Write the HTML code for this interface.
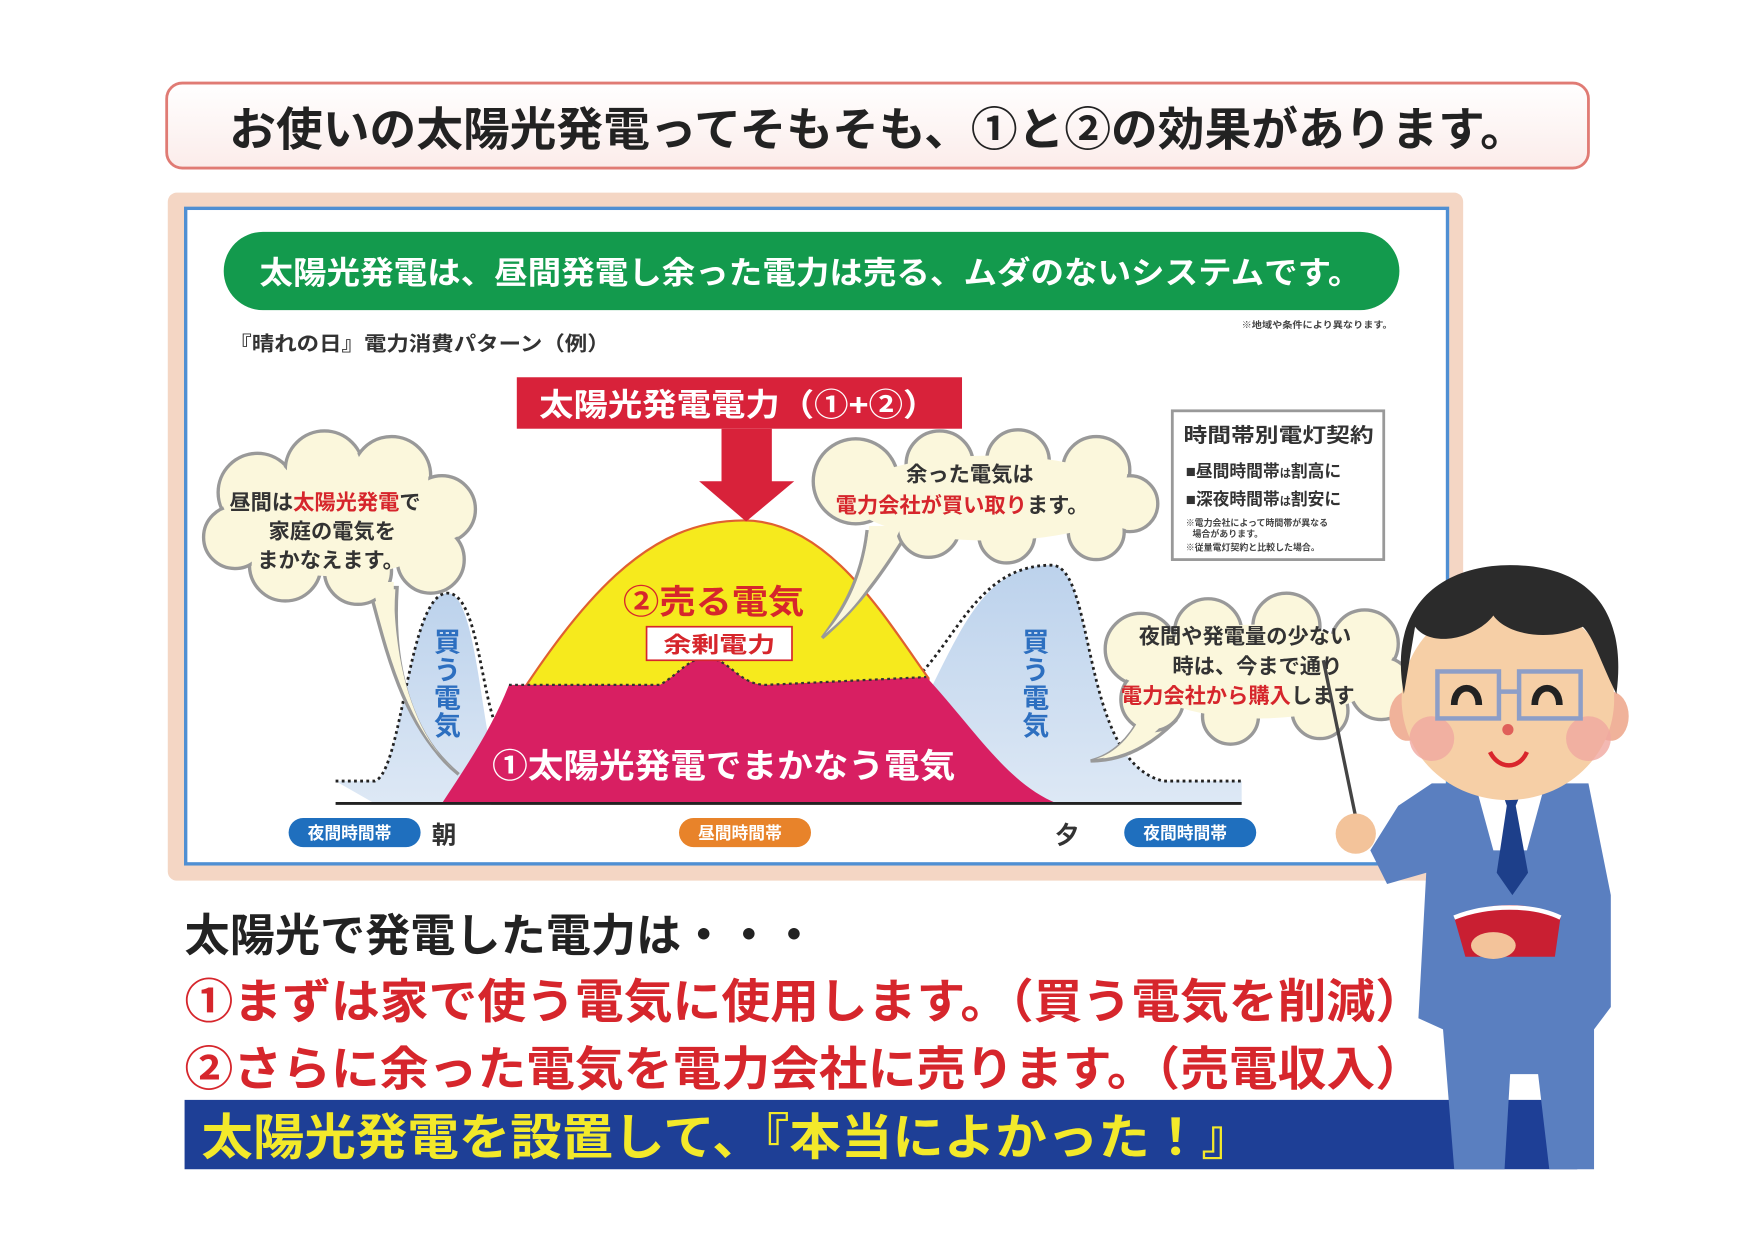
<!DOCTYPE html>
<html><head><meta charset="utf-8"><style>
html,body{margin:0;padding:0;background:#fff;}
svg{display:block;}
text{font-family:"Liberation Sans","Noto Sans CJK JP",sans-serif;font-weight:bold;}
</style></head><body>
<svg width="1754" height="1240" viewBox="0 0 1568 1108" xmlns="http://www.w3.org/2000/svg">
<defs>
<linearGradient id="tb" x1="0" y1="0" x2="0" y2="1"><stop offset="0" stop-color="#fff"/><stop offset="1" stop-color="#fbecea"/></linearGradient>
<linearGradient id="bl" x1="0" y1="0" x2="0" y2="1"><stop offset="0" stop-color="#bcd2ec"/><stop offset="1" stop-color="#dde8f5"/></linearGradient>
</defs>
<rect width="1568" height="1108" fill="#fff"/>
<rect x="149" y="74" width="1271" height="76" rx="14" fill="url(#tb)" stroke="#e07b74" stroke-width="2.5"/>
<text x="205" y="130" font-size="41" fill="#222" textLength="1160" lengthAdjust="spacingAndGlyphs">お使いの太陽光発電ってそもそも、①と②の効果があります。</text>
<rect x="150" y="172" width="1158" height="615" rx="8" fill="#f4d6c4"/>
<rect x="166" y="186" width="1128" height="586" fill="#fff" stroke="#4f8fd3" stroke-width="3"/>
<rect x="200" y="207" width="1051" height="70" rx="35" fill="#139a4d"/>
<text x="232" y="253" font-size="28" fill="#fff" textLength="985" lengthAdjust="spacingAndGlyphs">太陽光発電は、昼間発電し余った電力は売る、ムダのないシステムです。</text>
<text x="1110" y="293" font-size="8" fill="#444" font-weight="normal" textLength="135" lengthAdjust="spacingAndGlyphs">※地域や条件により異なります。</text>
<text x="205" y="313" font-size="18" fill="#333" textLength="340" lengthAdjust="spacingAndGlyphs">『晴れの日』電力消費パターン（例）</text>
<path d="M300,698 L335,698 C360,690 365,530 400,530 C430,530 430,690 455,718 L335,718 Z" fill="url(#bl)"/>
<path d="M300,698 L335,698 C360,690 365,530 400,530 C430,530 430,640 450,660" fill="none" stroke="#222" stroke-width="2.5" stroke-dasharray="2.5,3"/>
<path d="M820,640 C860,560 880,505 940,505 C980,505 965,680 1040,698 L1110,698 L1110,718 L900,718 Z" fill="url(#bl)"/>
<path d="M825,600 C860,560 880,505 940,505 C980,505 965,680 1040,698 L1110,698" fill="none" stroke="#222" stroke-width="2.5" stroke-dasharray="2.5,3"/>
<path d="M440,660 C520,530 580,465 665,465 C740,465 790,550 830,606 L830,718 L440,718 Z" fill="#f6ea1d" stroke="#e06030" stroke-width="2"/>
<path d="M395,718 C420,680 440,650 455,612 L590,612 C610,600 615,588 632,588 C652,588 660,612 685,612 L828,605 C870,650 900,700 945,718 Z" fill="#d81f62"/>
<path d="M455,612 L590,612 C610,600 615,588 632,588 C652,588 660,612 685,612 L828,605" fill="none" stroke="#333" stroke-width="2" stroke-dasharray="2.5,3"/>
<line x1="300" y1="718" x2="1110" y2="718" stroke="#222" stroke-width="2.5"/>
<text font-size="24" fill="#2d6fc0"><tspan x="388" y="582">買</tspan><tspan x="388" y="607">う</tspan><tspan x="388" y="632">電</tspan><tspan x="388" y="657">気</tspan></text>
<text font-size="24" fill="#2d6fc0"><tspan x="914" y="582">買</tspan><tspan x="914" y="607">う</tspan><tspan x="914" y="632">電</tspan><tspan x="914" y="657">気</tspan></text>
<text x="557" y="548" font-size="30" fill="#d6262c" textLength="162" lengthAdjust="spacingAndGlyphs">②売る電気</text>
<rect x="578" y="560" width="130" height="30" fill="#fff" stroke="#d6262c" stroke-width="1.5"/>
<text x="593" y="583" font-size="20" fill="#d6262c" textLength="100" lengthAdjust="spacingAndGlyphs">余剰電力</text>
<text x="440" y="695" font-size="30" fill="#fff" textLength="414" lengthAdjust="spacingAndGlyphs">①太陽光発電でまかなう電気</text>
<rect x="462" y="337" width="398" height="46" fill="#d8223a"/>
<text x="482" y="371" font-size="28" fill="#fff" textLength="356" lengthAdjust="spacingAndGlyphs">太陽光発電電力（①+②）</text>
<polygon points="645,383 690,383 690,430 710,430 667,466 625,430 645,430" fill="#d8223a"/>
<g fill="#fbf7dc" stroke="#999" stroke-width="3">
<path d="M330,525 C345,580 360,650 410,692 C370,660 350,600 355,525 Z"/>
<circle cx="230" cy="440" r="35"/><circle cx="290" cy="420" r="35"/><circle cx="350" cy="425" r="35"/><circle cx="395" cy="455" r="30"/><circle cx="385" cy="500" r="30"/><circle cx="320" cy="510" r="30"/><circle cx="255" cy="505" r="32"/><circle cx="210" cy="480" r="28"/>
<path d="M775,475 C770,520 750,550 735,570 C770,540 790,510 810,478 Z"/>
<circle cx="765" cy="430" r="38"/><circle cx="840" cy="415" r="30"/><circle cx="910" cy="412" r="28"/><circle cx="980" cy="420" r="30"/><circle cx="1010" cy="450" r="25"/><circle cx="980" cy="475" r="25"/><circle cx="900" cy="478" r="25"/><circle cx="830" cy="470" r="28"/>
<path d="M1020,640 C1010,660 995,675 975,680 C1005,680 1030,665 1050,645 Z"/>
<circle cx="1020" cy="580" r="32"/><circle cx="1080" cy="565" r="30"/><circle cx="1150" cy="560" r="30"/><circle cx="1220" cy="575" r="30"/><circle cx="1235" cy="615" r="28"/><circle cx="1180" cy="635" r="25"/><circle cx="1100" cy="640" r="25"/><circle cx="1030" cy="625" r="28"/>
</g>
<g fill="#fbf7dc">
<path d="M332,520 C347,580 362,648 406,688 C372,658 352,600 352,520 Z"/>
<circle cx="230" cy="440" r="33"/><circle cx="290" cy="420" r="33"/><circle cx="350" cy="425" r="33"/><circle cx="395" cy="455" r="28"/><circle cx="385" cy="500" r="28"/><circle cx="320" cy="510" r="28"/><circle cx="255" cy="505" r="30"/><circle cx="210" cy="480" r="26"/><ellipse cx="300" cy="465" rx="100" ry="50"/>
<path d="M777,470 C772,520 752,550 738,566 C770,540 788,510 806,470 Z"/>
<circle cx="765" cy="430" r="36"/><circle cx="840" cy="415" r="28"/><circle cx="910" cy="412" r="26"/><circle cx="980" cy="420" r="28"/><circle cx="1010" cy="450" r="23"/><circle cx="980" cy="475" r="23"/><circle cx="900" cy="478" r="23"/><circle cx="830" cy="470" r="26"/><ellipse cx="885" cy="445" rx="125" ry="38"/>
<path d="M1022,635 C1012,658 997,673 980,678 C1005,676 1028,662 1046,640 Z"/>
<circle cx="1020" cy="580" r="30"/><circle cx="1080" cy="565" r="28"/><circle cx="1150" cy="560" r="28"/><circle cx="1220" cy="575" r="28"/><circle cx="1235" cy="615" r="26"/><circle cx="1180" cy="635" r="23"/><circle cx="1100" cy="640" r="23"/><circle cx="1030" cy="625" r="26"/><ellipse cx="1125" cy="600" rx="110" ry="42"/>
</g>
<text font-size="19" fill="#333"><tspan x="205" y="455">昼間は<tspan fill="#d6262c">太陽光発電</tspan>で</tspan><tspan x="240" y="481">家庭の電気を</tspan><tspan x="230" y="507">まかなえます。</tspan></text>
<text font-size="19" fill="#333"><tspan x="810" y="430">余った電気は</tspan><tspan x="747" y="458"><tspan fill="#d6262c">電力会社が買い取り</tspan>ます。</tspan></text>
<text font-size="19" fill="#333"><tspan x="1018" y="575">夜間や発電量の少ない</tspan><tspan x="1048" y="602">時は、今まで通り</tspan><tspan x="1002" y="628"><tspan fill="#d6262c">電力会社から購入</tspan>します</tspan></text>
<rect x="1048" y="367" width="189" height="133" fill="#fff" stroke="#999" stroke-width="2.5"/>
<text x="1058" y="395" font-size="18" fill="#333" textLength="170" lengthAdjust="spacingAndGlyphs">時間帯別電灯契約</text>
<text x="1060" y="426" font-size="15" fill="#333" font-weight="normal">■昼間時間帯<tspan font-size="10">は</tspan>割高に</text>
<text x="1060" y="451" font-size="15" fill="#333" font-weight="normal">■深夜時間帯<tspan font-size="10">は</tspan>割安に</text>
<text font-size="8" fill="#444" font-weight="normal"><tspan x="1060" y="470">※電力会社によって時間帯が異なる</tspan><tspan x="1066" y="480">場合があります。</tspan><tspan x="1060" y="492">※従量電灯契約と比較した場合。</tspan></text>
<rect x="258" y="731" width="118" height="26" rx="13" fill="#1f6fbe"/>
<text x="275" y="750" font-size="15" fill="#fff" font-weight="normal">夜間時間帯</text>
<text x="386" y="754" font-size="22" fill="#333" font-weight="normal">朝</text>
<rect x="607" y="731" width="118" height="26" rx="13" fill="#e8832a"/>
<text x="624" y="750" font-size="15" fill="#fff" font-weight="normal">昼間時間帯</text>
<text x="943" y="754" font-size="22" fill="#333" font-weight="normal">夕</text>
<rect x="1005" y="731" width="118" height="26" rx="13" fill="#1f6fbe"/>
<text x="1022" y="750" font-size="15" fill="#fff" font-weight="normal">夜間時間帯</text>
<text x="165" y="850" font-size="40" fill="#222" textLength="565" lengthAdjust="spacingAndGlyphs">太陽光で発電した電力は・・・</text>
<text x="165" y="910" font-size="42" fill="#d6262c" textLength="1108" lengthAdjust="spacingAndGlyphs">①まずは家で使う電気に使用します。（買う電気を削減）</text>
<text x="165" y="970" font-size="42" fill="#d6262c" textLength="1108" lengthAdjust="spacingAndGlyphs">②さらに余った電気を電力会社に売ります。（売電収入）</text>
<rect x="165" y="983" width="1245" height="62" fill="#1e3f96"/>
<text x="180" y="1032" font-size="44" fill="#f3e92a" textLength="940" lengthAdjust="spacingAndGlyphs">太陽光発電を設置して、『本当によかった！』</text>
<g>
<line x1="1215" y1="745" x2="1183" y2="590" stroke="#444" stroke-width="3"/>
<path d="M1280,700 L1420,700 L1440,800 L1440,900 L1425,920 L1425,1045 L1385,1045 L1375,960 L1350,960 L1345,1045 L1300,1045 L1290,920 L1268,910 L1275,780 L1240,790 L1225,760 L1250,720 Z" fill="#5a7fc0"/>
<path d="M1320,705 L1380,705 L1365,760 L1335,760 Z" fill="#fff"/>
<path d="M1343,708 L1360,708 L1355,720 L1366,780 L1352,800 L1338,780 L1347,720 Z" fill="#1d3f8a"/>
<path d="M1300,820 C1330,805 1370,805 1395,820 L1390,855 L1310,855 Z" fill="#c91f32"/>
<path d="M1300,820 C1330,808 1370,808 1395,820" fill="none" stroke="#fff" stroke-width="4"/>
<ellipse cx="1335" cy="845" rx="20" ry="12" fill="#f3c39a"/>
<circle cx="1212" cy="745" r="18" fill="#f3c39a"/>
<ellipse cx="1258" cy="640" rx="16" ry="22" fill="#f0b29a"/>
<ellipse cx="1440" cy="640" rx="16" ry="22" fill="#f0b29a"/>
<ellipse cx="1348" cy="625" rx="95" ry="90" fill="#f6cfa6"/>
<path d="M1255,620 C1240,540 1290,505 1350,505 C1420,505 1455,545 1445,620 C1430,590 1425,570 1415,560 C1380,575 1345,565 1335,550 C1320,570 1280,580 1265,560 Z" fill="#2b2b2b"/>
<circle cx="1280" cy="660" r="20" fill="#f0a7a0" opacity="0.8"/>
<circle cx="1420" cy="660" r="20" fill="#f0a7a0" opacity="0.8"/>
<rect x="1285" y="600" width="55" height="42" fill="none" stroke="#8d9ec7" stroke-width="4"/>
<rect x="1358" y="600" width="55" height="42" fill="none" stroke="#8d9ec7" stroke-width="4"/>
<line x1="1340" y1="618" x2="1358" y2="618" stroke="#8d9ec7" stroke-width="4"/>
<path d="M1300,630 C1300,610 1322,610 1322,630" fill="none" stroke="#222" stroke-width="6"/>
<path d="M1372,630 C1372,610 1394,610 1394,630" fill="none" stroke="#222" stroke-width="6"/>
<circle cx="1348" cy="652" r="5" fill="#e0605a"/>
<path d="M1332,672 C1340,688 1358,688 1365,672" fill="none" stroke="#d9262c" stroke-width="4"/>
</g>
</svg>
</body></html>
